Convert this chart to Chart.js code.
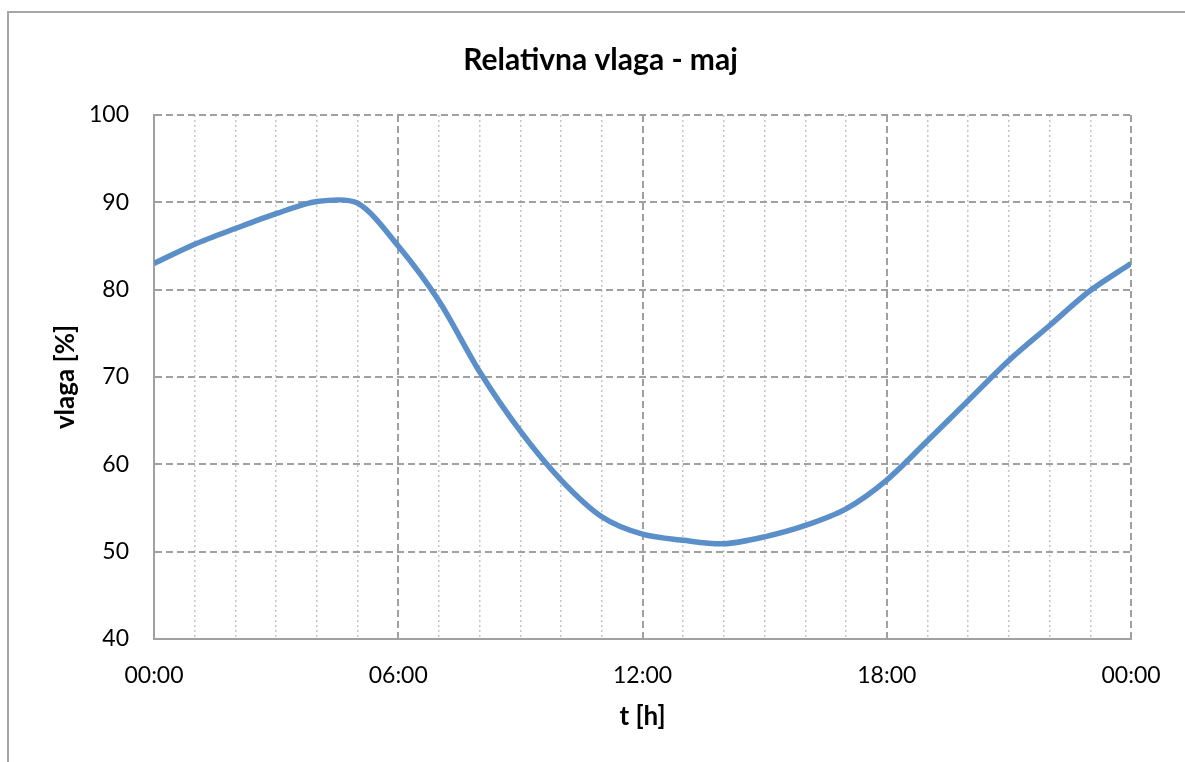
<!DOCTYPE html>
<html>
<head>
<meta charset="utf-8">
<script src="https://cdn.jsdelivr.net/npm/chart.js@4.4.1/dist/chart.umd.min.js"></script>
<style>
  html, body { margin: 0; padding: 0; background: #ffffff; }
  #wrap { position: relative; width: 1185px; height: 762px; overflow: hidden; }
  #frame { position: absolute; left: 7px; top: 11px; width: 1300px; height: 900px;
           border-top: 2px solid #a6a6a6; border-left: 2px solid #a6a6a6; pointer-events: none; }
  canvas { position: absolute; left: 0; top: 0; }
</style>
</head>
<body>
<div id="wrap">
  <canvas id="chart" width="1185" height="762"></canvas>
  <div id="frame"></div>
</div>
<script>
// Hourly relative humidity, May (hour 0 .. 24)
const hours = [0, 1, 2, 3, 4, 5, 6, 7, 8, 9, 10, 11, 12, 13, 14, 15, 16, 17, 18, 19, 20, 21, 22, 23, 24];
const humidity = [83.0, 85.2, 87.0, 88.7, 90.1, 89.9, 85.0, 78.7, 70.6, 63.8, 58.2, 54.0, 52.0,
                  51.3, 50.9, 51.7, 53.0, 54.9, 58.2, 62.7, 67.3, 71.9, 75.9, 79.9, 83.0];
const xTickLabels = { 0: '00:00', 6: '06:00', 12: '12:00', 18: '18:00', 24: '00:00' };
const yTicks = [40, 50, 60, 70, 80, 90, 100];

const chartTitle = 'Relativna vlaga - maj';
const xTitle = 't [h]';
const yTitle = 'vlaga [%]';

const FONT = 'Lato, "Liberation Sans", Arial, sans-serif';
const GRID = '#a0a0a0';
const MINOR = '#c4c4c4';

const points = hours.map((h, i) => ({ x: h, y: humidity[i] }));

new Chart(document.getElementById('chart'), {
  type: 'line',
  data: {
    datasets: [{
      data: points,
      borderColor: '#5b8fc9',
      borderWidth: 5.5,
      pointRadius: 0,
      tension: 0.3,
      fill: false
    }]
  },
  options: {
    responsive: false,
    animation: false,
    events: [],
    layout: { padding: { top: 0, left: 70, right: 54, bottom: 0 } },
    plugins: {
      legend: { display: false },
      tooltip: { enabled: false },
      title: {
        display: true,
        text: chartTitle,
        color: '#000000',
        font: { family: FONT, size: 30, weight: 'bold', lineHeight: 1.2 },
        padding: { top: 42, bottom: 37 }
      }
    },
    scales: {
      x: {
        type: 'linear',
        position: 'bottom',
        min: 0,
        max: 24,
        afterFit: s => { s.height = 123; },
        ticks: {
          stepSize: 1,
          autoSkip: false,
          maxRotation: 0,
          padding: 23,
          color: '#000000',
          font: { family: FONT, size: 23 },
          callback: v => (v in xTickLabels ? xTickLabels[v] : '')
        },
        grid: {
          drawTicks: false,
          lineWidth: 2,
          color: c => (c.tick && c.tick.value % 6 === 0 ? GRID : 'rgba(0,0,0,0)')
        },
        border: { display: true, color: GRID, width: 2, dash: [7, 4] },
        title: {
          display: true,
          text: xTitle,
          color: '#000000',
          font: { family: FONT, size: 26, weight: 'bold', lineHeight: 1.2 },
          padding: { top: 0, bottom: 30 }
        }
      },
      xMinor: {
        type: 'linear',
        position: 'bottom',
        min: 0,
        max: 24,
        afterFit: s => { s.height = 0; },
        ticks: { display: false, stepSize: 1, autoSkip: false },
        grid: {
          drawTicks: false,
          lineWidth: 1.5,
          color: c => (c.tick && c.tick.value % 6 !== 0 ? MINOR : 'rgba(0,0,0,0)')
        },
        border: { display: false, dash: [2, 3] }
      },
      y: {
        type: 'linear',
        min: 40,
        max: 100,
        afterFit: s => { s.width = 84; },
        afterBuildTicks: s => { s.ticks = yTicks.map(v => ({ value: v })); },
        ticks: {
          padding: 25,
          color: '#000000',
          font: { family: FONT, size: 23 }
        },
        grid: { drawTicks: false, lineWidth: 2, color: GRID },
        border: { display: true, color: GRID, width: 2, dash: [7, 4] },
        title: {
          display: true,
          text: yTitle,
          color: '#000000',
          font: { family: FONT, size: 26, weight: 'bold', lineHeight: 1.2 },
          padding: { top: -20, bottom: 0 }
        }
      }
    }
  }
});
</script>
</body>
</html>
